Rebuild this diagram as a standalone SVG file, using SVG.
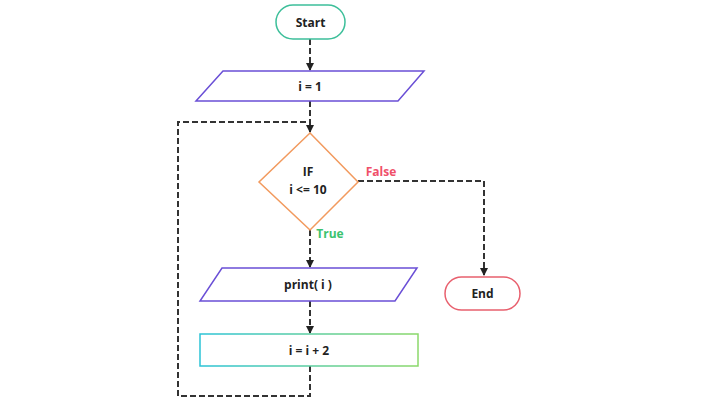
<svg xmlns="http://www.w3.org/2000/svg" width="720" height="404" viewBox="0 0 720 404">
<style>
text{font-family:"Open Sans","Liberation Sans",sans-serif;font-weight:bold;font-size:12px;text-anchor:middle;fill:#222}
.c{fill:none;stroke:#333;stroke-width:2;stroke-dasharray:6,3}
</style>
<defs>
<marker id="a" markerWidth="4" markerHeight="4" refX="3.5" refY="2" orient="auto"><path d="M0,0L4,2L0,4z" fill="#222"/></marker>
<linearGradient id="g" x1="0" x2="1"><stop offset="0" stop-color="#2bc3d6"/><stop offset="1" stop-color="#8bd86a"/></linearGradient>
</defs>
<rect width="720" height="404" fill="#fff"/>
<g id="connectors">
<path class="c" d="M310,39V70" marker-end="url(#a)"/>
<path class="c" d="M310,101V132" marker-end="url(#a)"/>
<path class="c" d="M310,230V267" marker-end="url(#a)"/>
<path class="c" d="M310,301V333" marker-end="url(#a)"/>
<path class="c" d="M310,366V396H178V122H310"/>
<path class="c" d="M358,181H484V275" marker-end="url(#a)"/>
</g>
<g id="start"><rect x="276" y="5" width="69" height="34" rx="17" fill="#fff" stroke="#3dbf9a" stroke-width="1.5"/><text x="310.5" y="27">Start</text></g>
<g id="init"><path d="M223,71H424L398,101H196Z" fill="#fff" stroke="#6a4fd6" stroke-width="1.5"/><text x="310" y="91">i = 1</text></g>
<g id="cond"><path d="M310,133L358,182L310,230L259,182Z" fill="#fff" stroke="#f29a5e" stroke-width="1.5"/><text x="308" y="176">IF</text><text x="308" y="194">i &lt;= 10</text></g>
<text x="381" y="176" style="fill:#f0506a">False</text>
<text x="330" y="238" style="fill:#3cc36f">True</text>
<g id="print"><path d="M222,268H417L395,301H200Z" fill="#fff" stroke="#6a4fd6" stroke-width="1.5"/><text x="308" y="289">print( i )</text></g>
<g id="inc"><rect x="200" y="334" width="218" height="32" fill="#fff" stroke="url(#g)" stroke-width="1.5"/><text x="309" y="355">i = i + 2</text></g>
<g id="end"><rect x="445" y="277" width="75" height="33" rx="16.5" fill="#fff" stroke="#e8606e" stroke-width="1.5"/><text x="482.5" y="298">End</text></g>
</svg>
